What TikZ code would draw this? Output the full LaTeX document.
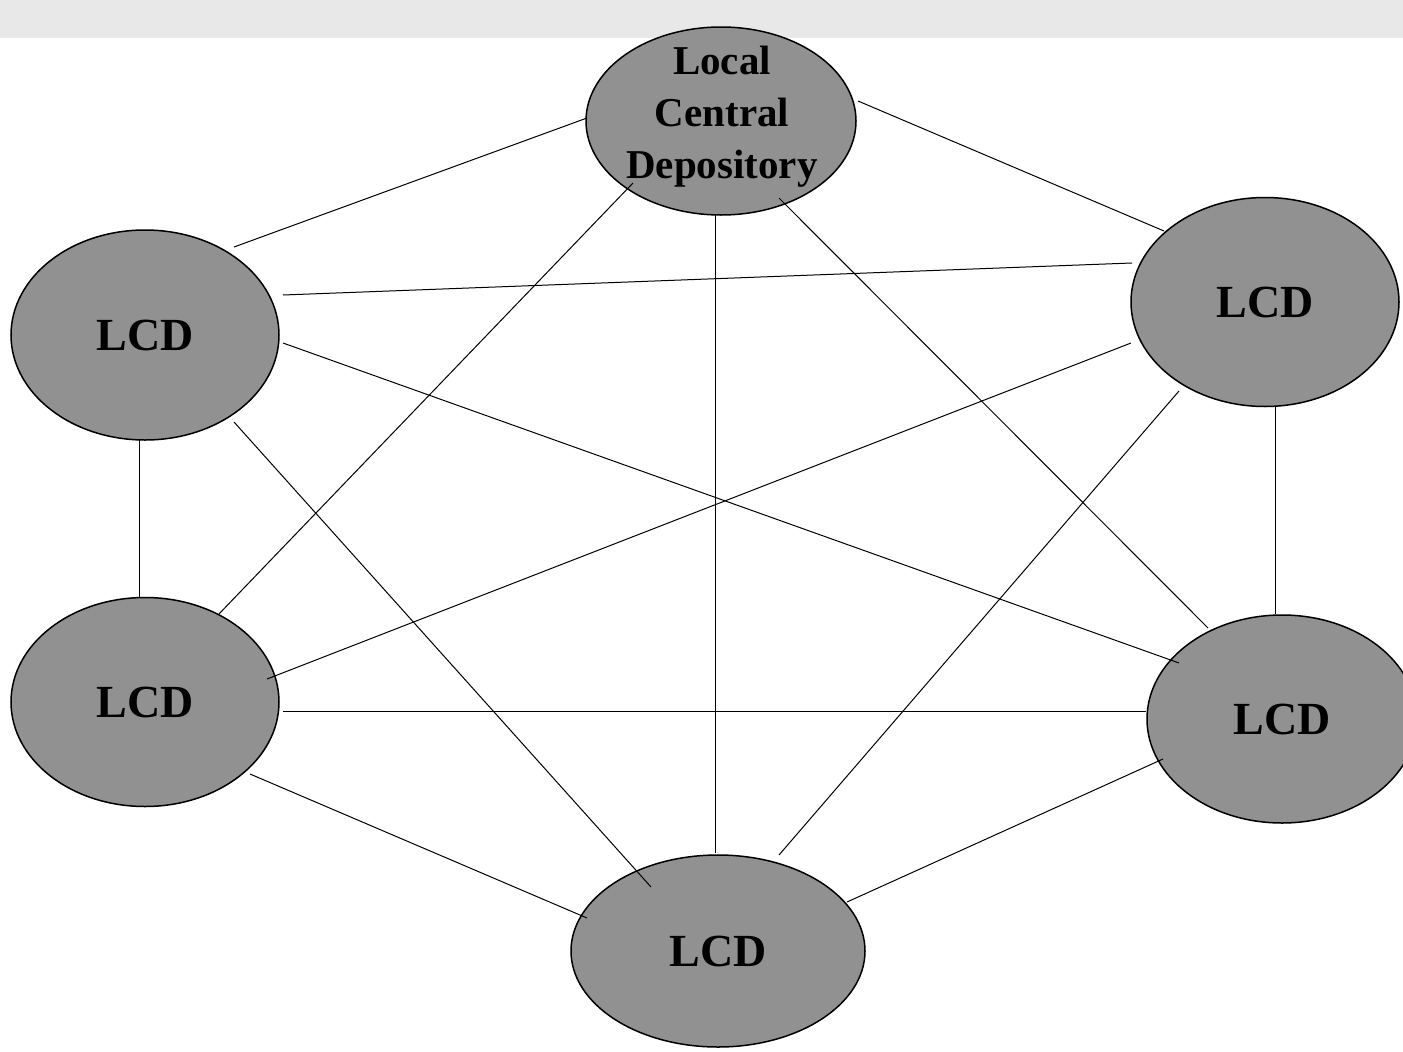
\documentclass[tikz,border=0pt]{standalone}
\usepackage{fontspec}
\setmainfont{Liberation Serif}
\usetikzlibrary{shapes.geometric}
\definecolor{bandgray}{RGB}{232,232,232}
\definecolor{nodegray}{RGB}{145,145,145}
\tikzset{
  lcd/.style={ellipse, draw=black, line width=1.5pt, fill=nodegray, inner sep=0pt,
    font=\fontsize{46}{52}\selectfont\bfseries},
  link/.style={draw=black, line width=1pt},
}
\begin{document}
\begin{tikzpicture}[x=1pt,y=-1pt]
\useasboundingbox (0,0) rectangle (1403,1052);
\fill[bandgray] (0,0) rectangle (1403,38);
% nodes
\node[lcd, minimum width=270pt, minimum height=188pt] (cd) at (721,121) {};
\node[inner sep=0pt, align=center, font=\fontsize{41}{52}\selectfont\bfseries] (cdt) at (722,116.5) {Local\\Central\\Depository};
\node[lcd, minimum width=268pt, minimum height=210pt] (l1) at (145,335) {LCD};
\node[lcd, minimum width=268pt, minimum height=209pt] (r1) at (1265,302) {LCD};
\node[lcd, minimum width=268pt, minimum height=209pt] (l2) at (145,702) {LCD};
\node[lcd, minimum width=270pt, minimum height=208pt] (r2) at (1282,719) {LCD};
\node[lcd, minimum width=294pt, minimum height=192pt] (b) at (718,951) {LCD};
% connector end points
\coordinate (l1-cd) at (234,247);  \coordinate (cd-l1) at (587,118);
\coordinate (cd-r1) at (858,101);  \coordinate (r1-cd) at (1164,231);
\coordinate (l1-r1) at (283,295);  \coordinate (r1-l1) at (1132,263);
\coordinate (l1-r2) at (283,343);  \coordinate (r2-l1) at (1179,663);
\coordinate (cd-l2) at (633,183);  \coordinate (l2-cd) at (218,615);
\coordinate (cd-b)  at (715,215);  \coordinate (b-cd)  at (715,853);
\coordinate (cd-r2) at (779,198);  \coordinate (r2-cd) at (1208,628);
\coordinate (l1-l2) at (139,440);  \coordinate (l2-l1) at (139,598);
\coordinate (r1-r2) at (1275,407); \coordinate (r2-r1) at (1275,614);
\coordinate (l1-b)  at (234,422);  \coordinate (b-l1)  at (651,887);
\coordinate (r1-l2) at (1131,343); \coordinate (l2-r1) at (267,679);
\coordinate (r1-b)  at (1179,391); \coordinate (b-r1)  at (779,855);
\coordinate (l2-r2) at (283,711);  \coordinate (r2-l2) at (1146,711);
\coordinate (l2-b)  at (250,774);  \coordinate (b-l2)  at (587,918);
\coordinate (b-r2)  at (847,902);  \coordinate (r2-b)  at (1163,759);
% connectors
\draw[link] (l1-cd) -- (cd-l1);
\draw[link] (cd-r1) -- (r1-cd);
\draw[link] (l1-r1) -- (r1-l1);
\draw[link] (l1-r2) -- (r2-l1);
\draw[link] (cd-l2) -- (l2-cd);
\draw[link] (cd-b) -- (b-cd);
\draw[link] (cd-r2) -- (r2-cd);
\draw[link] (l1-l2) -- (l2-l1);
\draw[link] (r1-r2) -- (r2-r1);
\draw[link] (l1-b) -- (b-l1);
\draw[link] (r1-l2) -- (l2-r1);
\draw[link] (r1-b) -- (b-r1);
\draw[link] (l2-r2) -- (r2-l2);
\draw[link] (l2-b) -- (b-l2);
\draw[link] (b-r2) -- (r2-b);
\end{tikzpicture}
\end{document}
